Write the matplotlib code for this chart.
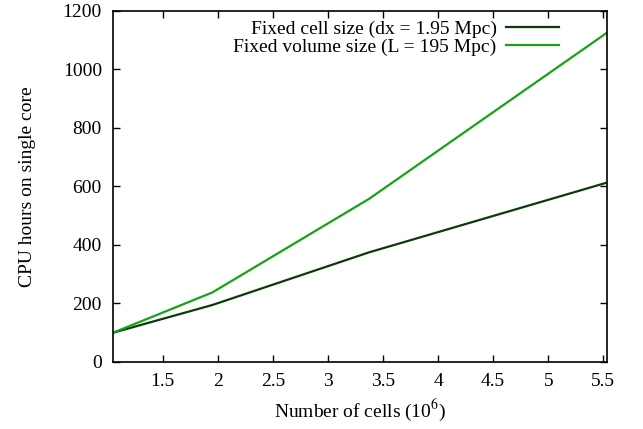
import matplotlib
matplotlib.use("Agg")
import matplotlib.pyplot as plt

# du lieu doc tu hinh
cells = [1.05, 1.953, 3.375, 5.53]
fixed_cell = [100, 195, 375, 613]
fixed_vol = [100, 238, 558, 1125]
xticks = [1.5, 2, 2.5, 3, 3.5, 4, 4.5, 5, 5.5]
yticks = [0, 200, 400, 600, 800, 1000, 1200]

plt.rcParams['font.family'] = ['Liberation Serif', 'DejaVu Serif']
plt.rcParams['mathtext.fontset'] = 'stix'

fig = plt.figure(figsize=(6.43, 4.29), dpi=100)
ax = fig.add_axes([0.1757, 0.1562, 0.7678, 0.8182])

ax.plot(cells, fixed_cell, color='#0b3a0b', lw=1.6, label='Fixed cell size (dx = 1.95 Mpc)')
ax.plot(cells, fixed_vol, color='#16a316', lw=1.6, label='Fixed volume size (L = 195 Mpc)')

ax.set_xlim(cells[0], cells[-1])
ax.set_ylim(0, 1200)
ax.set_xticks(xticks)
ax.set_xticklabels([f"{t:g}" for t in xticks])
ax.set_yticks(yticks)
ax.tick_params(direction='in', top=True, right=True, length=5, width=1,
               labelsize=14, pad=8)
for s in ax.spines.values():
    s.set_linewidth(1.2)

ax.set_xlabel('Number of cells (10$^6$)', fontsize=14, labelpad=5)
ax.set_ylabel('CPU hours on single core', fontsize=14, labelpad=19)

ax.legend(loc='upper right', bbox_to_anchor=(0.903, 0.973), frameon=False,
          markerfirst=False, fontsize=14, handlelength=2.7, handletextpad=0.5,
          labelspacing=0.0, borderpad=0, borderaxespad=0)

fig.savefig('out.png', dpi=100)
